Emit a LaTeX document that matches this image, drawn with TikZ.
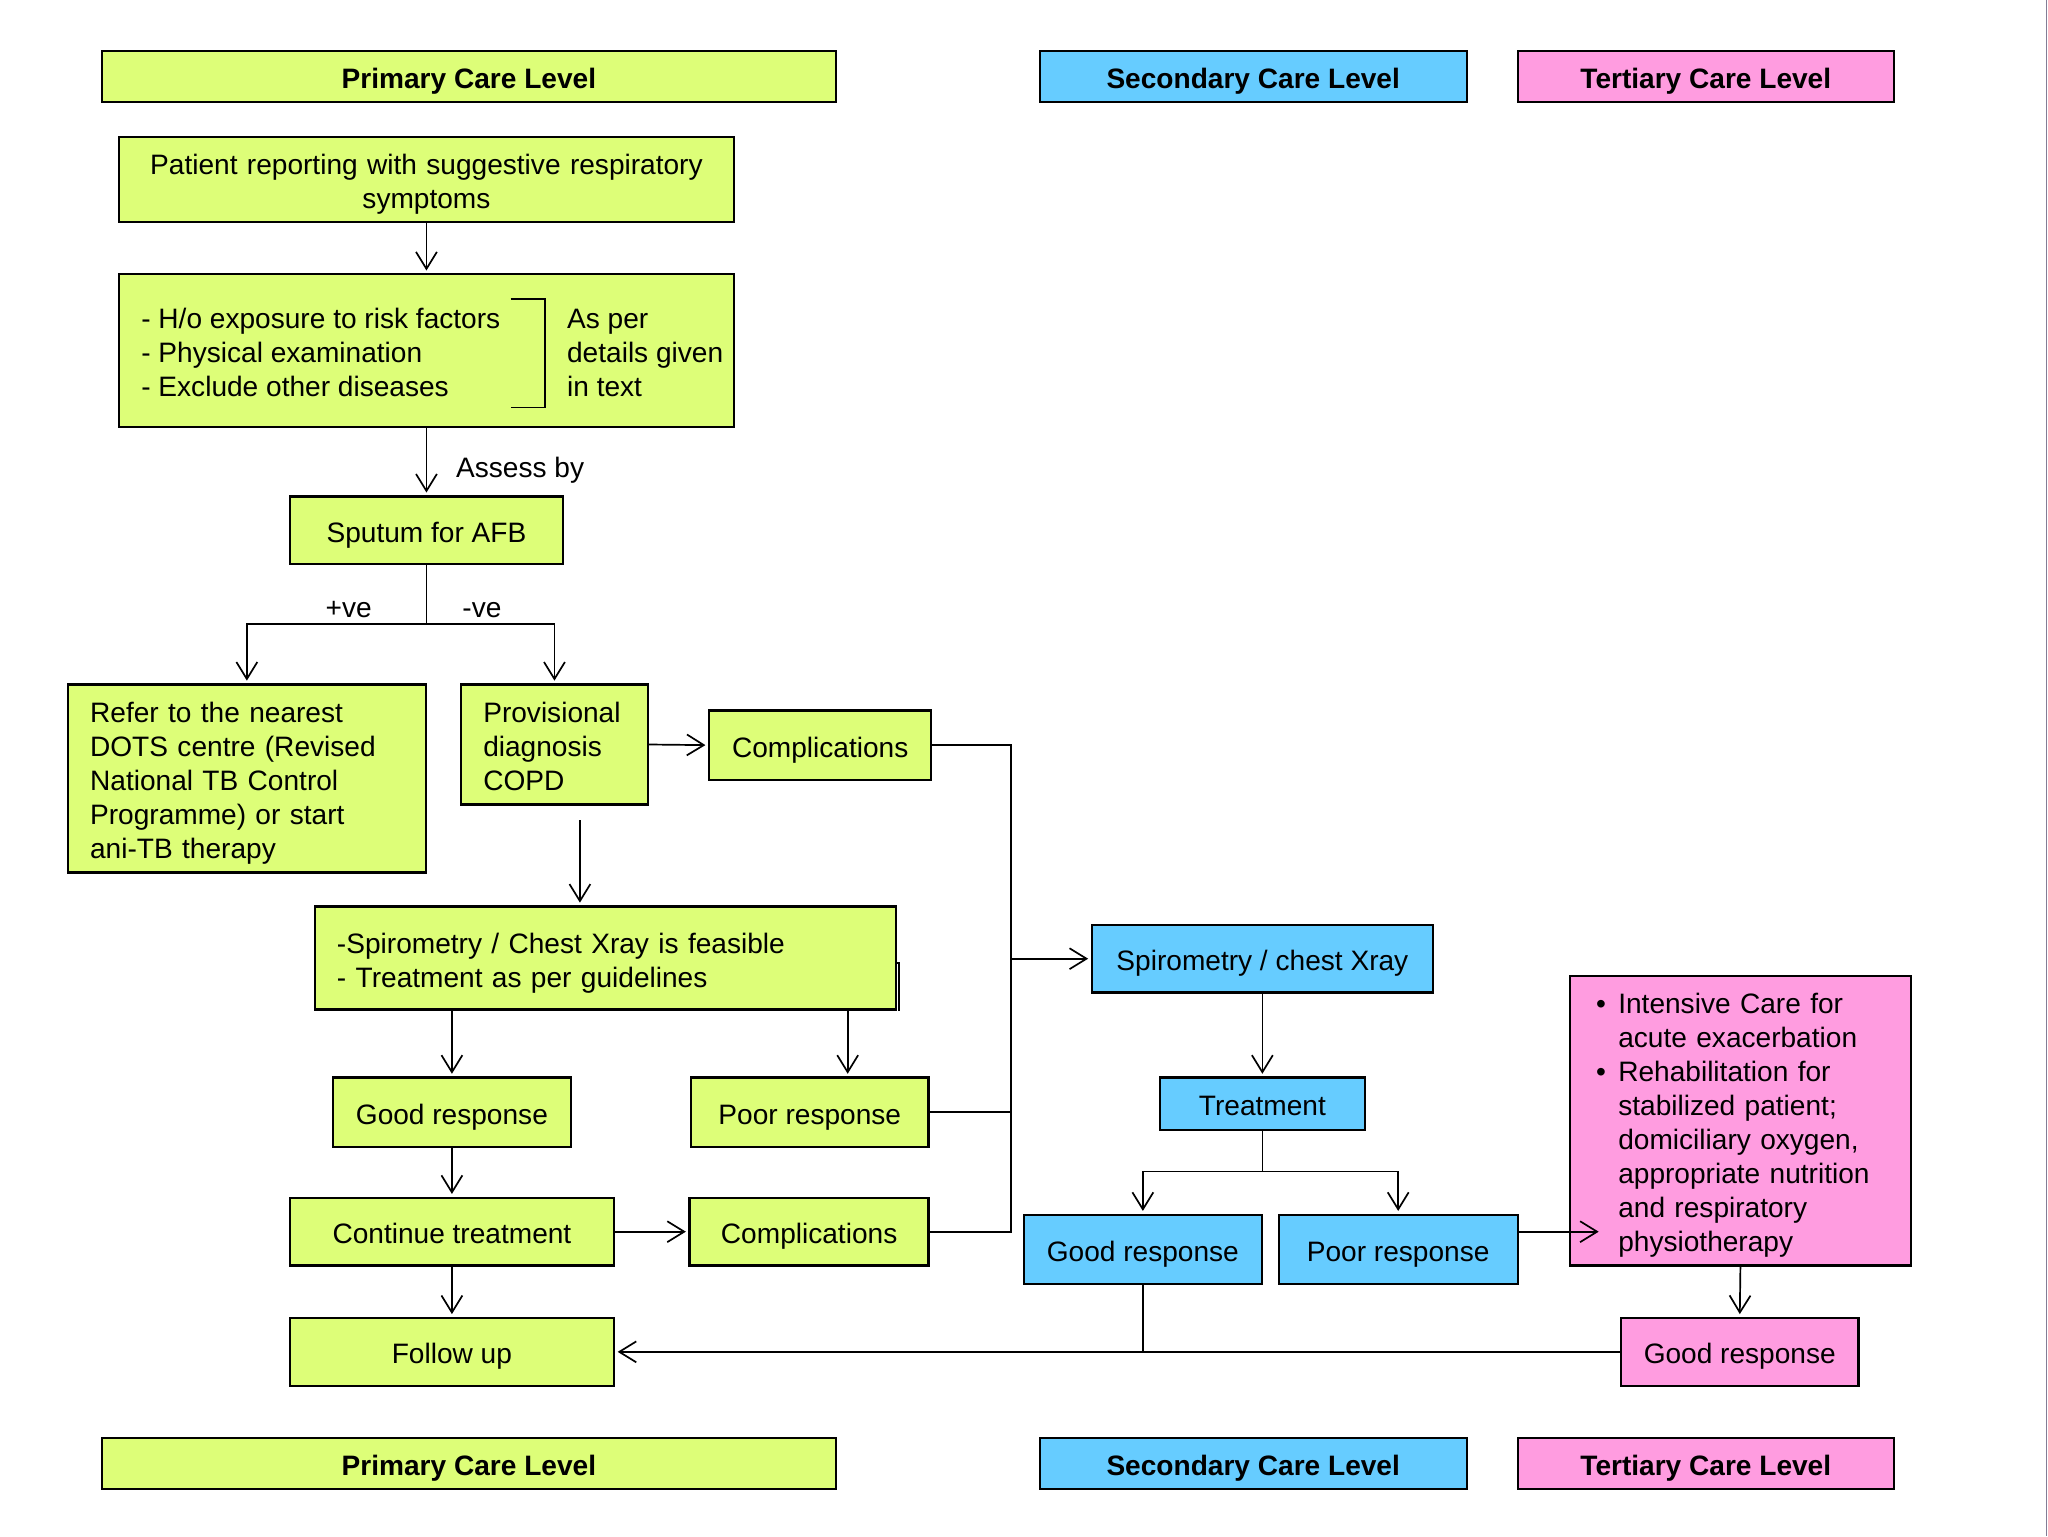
\documentclass[tikz,border=0pt]{standalone}
\usepackage{fontspec}
\setmainfont{Liberation Sans}
\usetikzlibrary{arrows.meta,calc}
\definecolor{pgreen}{RGB}{221,254,120}
\definecolor{sblue}{RGB}{102,204,255}
\definecolor{tpink}{RGB}{255,156,224}
\definecolor{edgegray}{RGB}{130,125,150}
\begin{document}
\begin{tikzpicture}[x=1pt,y=-1pt,
  every node/.style={font=\fontsize{21.5}{26}\selectfont},
  box/.style={draw=black,line width=1.8pt,rectangle,inner sep=0pt,align=center,
    execute at begin node={\rule{0pt}{23.4pt}},
    execute at end node={\rule[-5pt]{0pt}{5pt}}},
  gbox/.style={box,fill=pgreen},
  bbox/.style={box,fill=sblue},
  pbox/.style={box,fill=tpink},
  hdr/.style={font=\fontsize{21.5}{26}\selectfont\bfseries,minimum height=39pt},
  lbox/.style={align=left,inner xsep=17pt,inner ysep=0pt},
  conn/.style={line width=1.3pt,draw=black},
  arr/.style={conn,-{Straight Barb[length=13pt,width=16pt,line width=1.3pt]},shorten >=2pt},
  lbl/.style={inner sep=0pt}
]
\useasboundingbox (0,0) rectangle (1568,1176);
\fill[white] (0,0) rectangle (1568,1176);
\draw[edgegray,line width=1.2pt] (1566.8,0) -- (1566.8,1176);

% headers
\node[gbox,hdr,minimum width=562pt] (hp1) at (359,58.5) {Primary Care Level};
\node[bbox,hdr,minimum width=327pt] (hs1) at (959.5,58.5) {Secondary Care Level};
\node[pbox,hdr,minimum width=288pt] (ht1) at (1306,58.5) {Tertiary Care Level};
\node[gbox,hdr,minimum width=562pt] (hp2) at (359,1120.5) {Primary Care Level};
\node[bbox,hdr,minimum width=327pt] (hs2) at (959.5,1120.5) {Secondary Care Level};
\node[pbox,hdr,minimum width=288pt] (ht2) at (1306,1120.5) {Tertiary Care Level};

% primary care flow
\node[gbox,minimum width=471pt,minimum height=65pt,text width=451pt] (patient) at (326.5,137.5)
  {Patient reporting with suggestive respiratory\\symptoms};
\node[gbox,minimum width=471pt,minimum height=117pt] (risk) at (326.5,268.5) {};
\node[lbl,anchor=west,align=left] (risktext) at (108,270)
  {- H/o exposure to risk factors\\- Physical examination\\- Exclude other diseases};
\node[lbl,anchor=west,align=left] (riskside) at (434,270)
  {As per\\details given\\in text};
\draw[conn] (391,229) -- (417,229) -- (417,312) -- (391,312);

\node[gbox,minimum width=209pt,minimum height=52pt] (sputum) at (326.5,406) {Sputum for AFB};
\node[gbox,lbox,minimum height=144pt,text width=240pt] (refer) at (189,596)
  {Refer to the nearest\\DOTS centre (Revised\\National TB Control\\Programme) or start\\ani-TB therapy};
\node[gbox,lbox,minimum height=92pt,text width=109pt] (prov) at (424.5,570)
  {Provisional\\diagnosis\\COPD};
\node[gbox,minimum width=170pt,minimum height=53pt] (comp1) at (628,570.5) {Complications};
\node[gbox,lbox,minimum height=79pt,text width=411pt] (feas) at (463.5,733.5)
  {-Spirometry / Chest Xray is feasible\\- Treatment as per guidelines};
\draw[line width=1.4pt] (686,737) -- (688.5,737) -- (688.5,774);
\node[gbox,minimum width=182pt,minimum height=53pt] (good1) at (346,851.5) {Good response};
\node[gbox,minimum width=182pt,minimum height=53pt] (poor1) at (620,851.5) {Poor response};
\node[gbox,minimum width=248pt,minimum height=52pt] (cont) at (346,943) {Continue treatment};
\node[gbox,minimum width=183pt,minimum height=52pt] (comp2) at (619.5,943) {Complications};
\node[gbox,minimum width=248pt,minimum height=52pt] (follow) at (346,1035) {Follow up};

% secondary care
\node[bbox,minimum width=261pt,minimum height=52pt] (spiro) at (966.5,734) {Spirometry / chest Xray};
\node[bbox,minimum width=157pt,minimum height=40pt] (treat) at (966.5,845) {Treatment};
\node[bbox,minimum width=182pt,minimum height=53pt] (good2) at (875,956.5) {Good response};
\node[bbox,minimum width=183pt,minimum height=53pt] (poor2) at (1070.5,956.5) {Poor response};

% tertiary care
\node[pbox,align=left,inner xsep=20pt,inner ysep=0pt,minimum height=222pt,text width=221pt] (icu) at (1332.5,858)
  {\makebox[17pt][l]{\textbullet}Intensive Care for\\
   \hspace*{17pt}acute exacerbation\\
   \makebox[17pt][l]{\textbullet}Rehabilitation for\\
   \hspace*{17pt}stabilized patient;\\
   \hspace*{17pt}domiciliary oxygen,\\
   \hspace*{17pt}appropriate nutrition\\
   \hspace*{17pt}and respiratory\\
   \hspace*{17pt}physiotherapy};
\node[pbox,minimum width=182pt,minimum height=52pt] (good3) at (1332,1035) {Good response};

% connectors
\draw[arr] (patient.south) -- (risk.north);
\draw[arr] (risk.south) -- (sputum.north);
\node[lbl,anchor=west] (assess) at (349,360) {Assess by};
\coordinate (split1) at (326.5,478);
\draw[conn] (sputum.south) -- (split1);
\draw[arr] (split1) -| (refer.north);
\draw[arr] (split1) -| (prov.north);
\node[lbl] (pos) at (267,467) {+ve};
\node[lbl] (neg) at (369,467) {-ve};
\draw[arr] (prov.east) -- (comp1.west);

\coordinate (bus1) at (774,570.5);
\coordinate (bus2) at (774,943);
\draw[conn] (comp1.east) -- (bus1) -- (bus2) -- (comp2.east);
\draw[conn] (poor1.east) -- (poor1.east -| bus1);
\draw[arr] (spiro.west -| bus1) -- (spiro.west);

\coordinate (p1) at (444,628);
\draw[arr] (p1) -- (p1 |- feas.north);
\draw[arr] (good1.north |- feas.south) -- (good1.north);
\coordinate (p2) at (649,773);
\draw[arr] (p2) -- (p2 |- poor1.north);
\draw[arr] (good1.south) -- (cont.north);
\draw[arr] (cont.east) -- (comp2.west);
\draw[arr] (cont.south) -- (follow.north);

\draw[arr] (spiro.south) -- (treat.north);
\coordinate (split2) at (966.5,897);
\draw[conn] (treat.south) -- (split2);
\draw[arr] (split2) -| (good2.north);
\draw[arr] (split2) -| (poor2.north);
\coordinate (p3) at (1162,943);
\draw[arr,shorten >=0pt] (p3) -- (1224,943);
\draw[arr] (icu.south) -- (good3.north);
\draw[arr] (good3.west) -- (follow.east);
\draw[conn] (good2.south) -- (good2.south |- follow.east);
\end{tikzpicture}
\end{document}
